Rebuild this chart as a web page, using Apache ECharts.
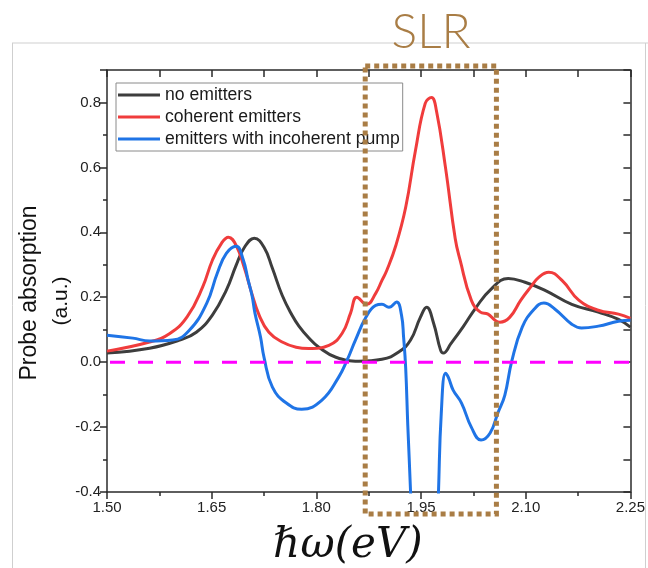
<!DOCTYPE html>
<html><head><meta charset="utf-8">
<script src="https://cdn.jsdelivr.net/npm/echarts@6/dist/echarts.min.js"></script>
<style>html,body{margin:0;padding:0;background:#fff}#c{width:648px;height:568px}</style>
</head><body><div id="c"></div>
<script>
// ---- data ----
const xTickLabels = ['1.50','1.65','1.80','1.95','2.10','2.25'];
const yTickLabels = ['-0.4','-0.2','0.0','0.2','0.4','0.6','0.8'];
const seriesNames = ['no emitters','coherent emitters','emitters with incoherent pump'];

const noEmX = [1.500,1.561,1.604,1.628,1.651,1.671,1.685,1.697,1.711,1.725,1.737,1.751,1.765,1.775,1.789,1.804,1.828,1.861,1.894,1.918,1.935,1.949,1.958,1.968,1.978,1.982,1.993,2.010,2.029,2.049,2.075,2.099,2.127,2.166,2.204,2.233,2.250];
const noEmY = [0.028,0.043,0.068,0.092,0.145,0.222,0.298,0.354,0.382,0.354,0.289,0.206,0.145,0.111,0.075,0.045,0.015,0.003,0.009,0.031,0.068,0.138,0.169,0.120,0.037,0.028,0.058,0.108,0.169,0.222,0.258,0.246,0.222,0.178,0.154,0.132,0.108];

const cohX = [1.500,1.561,1.590,1.615,1.637,1.651,1.664,1.674,1.685,1.697,1.707,1.718,1.732,1.751,1.771,1.789,1.818,1.837,1.849,1.858,1.872,1.885,1.894,1.901,1.914,1.928,1.942,1.956,1.965,1.972,1.985,1.999,2.006,2.022,2.035,2.046,2.056,2.063,2.077,2.093,2.107,2.119,2.133,2.152,2.176,2.204,2.233,2.250];
const cohY = [0.034,0.062,0.088,0.140,0.231,0.314,0.366,0.385,0.360,0.289,0.215,0.145,0.092,0.062,0.046,0.042,0.052,0.089,0.151,0.200,0.178,0.212,0.252,0.283,0.360,0.477,0.652,0.797,0.815,0.775,0.600,0.380,0.314,0.191,0.154,0.148,0.129,0.123,0.138,0.191,0.231,0.262,0.277,0.252,0.191,0.160,0.148,0.135];

const incX = [1.500,1.537,1.561,1.594,1.618,1.643,1.658,1.671,1.685,1.695,1.702,1.708,1.712,1.720,1.725,1.737,1.757,1.779,1.808,1.832,1.844,1.856,1.871,1.885,1.894,1.904,1.915,1.922,1.925,1.928,1.931,1.935,1.938,1.955,1.972,1.975,1.979,1.985,1.989,1.996,2.008,2.022,2.036,2.049,2.060,2.070,2.080,2.095,2.112,2.126,2.142,2.166,2.180,2.204,2.233,2.250];
const incY = [0.083,0.074,0.065,0.068,0.098,0.182,0.274,0.335,0.357,0.317,0.255,0.203,0.151,0.077,0.015,-0.077,-0.126,-0.145,-0.117,-0.046,0.006,0.068,0.138,0.175,0.178,0.169,0.185,0.145,0.077,-0.018,-0.194,-0.400,-0.600,-1.500,-0.600,-0.400,-0.157,-0.034,-0.046,-0.086,-0.126,-0.200,-0.240,-0.218,-0.157,-0.102,0.003,0.108,0.163,0.182,0.163,0.117,0.105,0.111,0.126,0.129];

const zeroX = [1.50, 2.25];
const zeroY = [0, 0];
const slrRange = [1.870, 2.058];

const pairs = (xs, ys) => xs.map((x, i) => [x, ys[i]]);
const colors = ['#3d3d3d', '#f03c3c', '#1f74e6'];

const chart = echarts.init(document.getElementById('c'), null, {renderer: 'canvas'});
const axisColor = '#2a2a2a';
const labelFont = {color: '#222', fontSize: 15, fontFamily: 'Liberation Sans, Arial, sans-serif'};

const xBase = {
  type: 'value', min: 1.5, max: 2.25, interval: 0.15,
  axisLine: {onZero: false, lineStyle: {color: axisColor, width: 1.5}},
  splitLine: {show: false},
  minorTick: {show: true, splitNumber: 2, length: 4, lineStyle: {color: axisColor, width: 1.5}}
};
const yBase = {
  type: 'value', min: -0.4, max: 0.9, interval: 0.2,
  axisLine: {show: true, onZero: false, lineStyle: {color: axisColor, width: 1.5}},
  splitLine: {show: false},
  minorTick: {show: true, splitNumber: 2, length: 4, lineStyle: {color: axisColor, width: 1.5}}
};

const lineSeries = (i, xs, ys) => ({
  name: seriesNames[i], type: 'line', data: pairs(xs, ys), color: colors[i],
  smooth: 0.45, showSymbol: false, lineStyle: {width: 3}, z: 3
});

chart.setOption({
  animation: false,
  backgroundColor: '#fff',
  grid: {left: 107, right: 15, top: 70, bottom: 76},
  legend: {
    data: seriesNames, orient: 'vertical', left: 116, top: 83,
    icon: 'rect', itemWidth: 42, itemHeight: 3, itemGap: 4,
    borderColor: '#8a8a8a', borderWidth: 1, padding: [3, 3, 3, 2],
    textStyle: {color: '#1a1a1a', fontSize: 17.6, fontFamily: 'Liberation Sans, Arial, sans-serif', lineHeight: 18}
  },
  xAxis: [
    Object.assign({}, xBase, {position: 'bottom',
      axisTick: {show: true, inside: false, length: 7, lineStyle: {color: axisColor, width: 1.5}},
      axisLabel: Object.assign({}, labelFont, {margin: 8, formatter: v => {
        const i = Math.round((v - 1.5) / 0.15); return xTickLabels[i] || ''; }})}),
    Object.assign({}, xBase, {position: 'top',
      axisTick: {show: true, inside: true, length: 7, lineStyle: {color: axisColor, width: 1.5}},
      minorTick: {show: true, splitNumber: 2, length: 7, lineStyle: {color: axisColor, width: 1.5}},
      axisLabel: {show: false}})
  ],
  yAxis: [
    Object.assign({}, yBase, {position: 'left',
      axisTick: {show: true, inside: false, length: 7, lineStyle: {color: axisColor, width: 1.5}},
      axisLabel: Object.assign({}, labelFont, {margin: 6, showMaxLabel: false, formatter: v => {
        const i = Math.round((v + 0.4) / 0.2); return (Math.abs(v - (-0.4 + i * 0.2)) < 1e-6) ? (yTickLabels[i] || '') : ''; }})}),
    Object.assign({}, yBase, {position: 'right',
      axisTick: {show: true, inside: true, length: 7, lineStyle: {color: axisColor, width: 1.5}},
      minorTick: {show: true, splitNumber: 2, length: 7, lineStyle: {color: axisColor, width: 1.5}},
      axisLabel: {show: false}})
  ],
  series: [
    lineSeries(0, noEmX, noEmY),
    lineSeries(1, cohX, cohY),
    lineSeries(2, incX, incY),
    {name: 'zero', type: 'line', data: pairs(zeroX, zeroY), color: '#ff00ff', showSymbol: false, lineStyle: {width: 3, type: [15, 13], dashOffset: -3}, z: 4}
  ]
});

const xl = chart.convertToPixel({xAxisIndex: 0}, slrRange[0]);
const xr = chart.convertToPixel({xAxisIndex: 0}, slrRange[1]);
const boxColor = '#a97d45';
const dotted = {stroke: boxColor, lineWidth: 5, lineDash: [5, 4], fill: null};
chart.setOption({
  graphic: [
    {type: 'line', shape: {x1: 12, y1: 43, x2: 648, y2: 43}, style: {stroke: '#cfcfcf', lineWidth: 1}, z: 1},
    {type: 'line', shape: {x1: 12.5, y1: 43, x2: 12.5, y2: 568}, style: {stroke: '#cfcfcf', lineWidth: 1}, z: 1},
    {type: 'line', shape: {x1: 645.5, y1: 43, x2: 645.5, y2: 568}, style: {stroke: '#cfcfcf', lineWidth: 1}, z: 1},
    {type: 'rect', shape: {x: xl, y: 66, width: xr - xl, height: 448}, style: dotted, z: 100},
    {type: 'text', x: 431, y: 33, style: {text: 'SLR', fill: boxColor, font: '300 48px Lato, "Open Sans", sans-serif', textAlign: 'center', textVerticalAlign: 'middle'}, z: 100},
    {type: 'text', x: 30, y: 293, rotation: Math.PI / 2, style: {text: 'Probe absorption', fill: '#111', font: '23px "Liberation Sans", Arial, sans-serif', textAlign: 'center', textVerticalAlign: 'middle'}, z: 100},
    {type: 'text', x: 61, y: 301, rotation: Math.PI / 2, style: {text: '(a.u.)', fill: '#111', font: '21px "Liberation Sans", Arial, sans-serif', textAlign: 'center', textVerticalAlign: 'middle'}, z: 100},
    {type: 'text', x: 348, y: 546, style: {text: 'ℏω(eV)', fill: '#111', font: 'italic 42px "DejaVu Serif", serif', textAlign: 'center', textVerticalAlign: 'middle'}, z: 100}
  ]
});
</script></body></html>
